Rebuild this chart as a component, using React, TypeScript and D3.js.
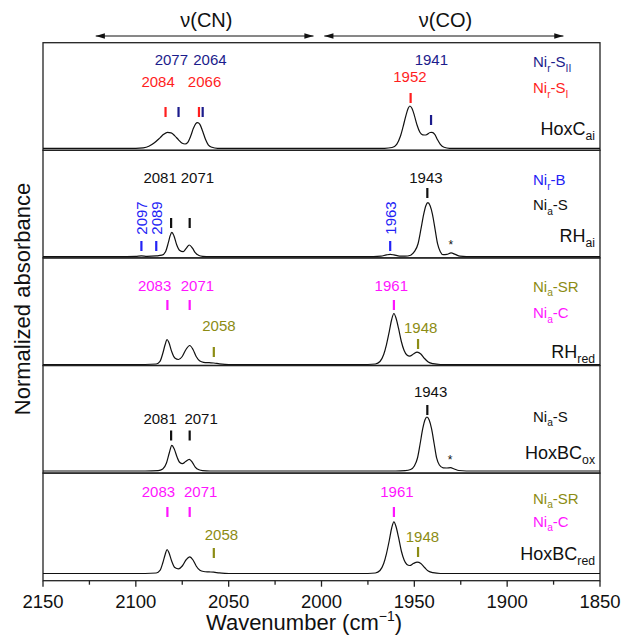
import React from 'react';
import * as d3 from 'd3';

// spectra: [wavenumber, normalized absorbance]
const hoxCaiSpectrum: [number, number][] = [
  [2150, 0], [2100, 0], [2096, 0.009], [2093, 0.037], [2090, 0.102], [2087, 0.194], [2085, 0.259],
  [2083, 0.296], [2081, 0.287], [2079, 0.231], [2077, 0.157], [2075, 0.093], [2073.5, 0.08],
  [2072, 0.111], [2070.5, 0.222], [2069, 0.37], [2067.8, 0.454], [2066.8, 0.476], [2065.5, 0.444],
  [2064, 0.315], [2062.5, 0.167], [2061, 0.065], [2059, 0.019], [2056, 0], [1966, 0], [1962, 0.015],
  [1959.5, 0.074], [1957.5, 0.222], [1956, 0.407], [1954.5, 0.611], [1953.3, 0.741], [1952.4, 0.783],
  [1951.3, 0.741], [1950, 0.611], [1948.5, 0.426], [1947, 0.296], [1945.5, 0.25], [1943.8, 0.246],
  [1941.5, 0.293], [1940.5, 0.296], [1939, 0.259], [1937.5, 0.157], [1936, 0.074], [1934, 0.019],
  [1931, 0], [1850, 0],
];

const rhAiSpectrum: [number, number][] = [
  [2150, 0], [2110, 0], [2100, 0.006], [2097, 0.015], [2094, 0.007], [2089, 0.015], [2086, 0.028],
  [2084, 0.093], [2082.5, 0.26], [2081.5, 0.39], [2080.6, 0.45], [2079.5, 0.39], [2078, 0.22],
  [2076.5, 0.12], [2074.5, 0.093], [2073, 0.148], [2071.2, 0.217], [2069.5, 0.157], [2068, 0.074],
  [2066, 0.022], [2064, 0.006], [2060, 0], [1972, 0], [1968, 0.009], [1965, 0.033], [1963, 0.043],
  [1961, 0.033], [1958, 0.011], [1955, 0.009], [1952, 0.028], [1950, 0.093], [1948, 0.24],
  [1946.5, 0.5], [1945, 0.78], [1943.8, 0.944], [1942.7, 1.0], [1941.5, 0.944], [1940.2, 0.78],
  [1938.8, 0.5], [1937.5, 0.24], [1936, 0.093], [1934.5, 0.037], [1932.5, 0.043], [1930.2, 0.069],
  [1928, 0.043], [1925.5, 0.009], [1922, 0], [1850, 0],
];

const rhRedSpectrum: [number, number][] = [
  [2150, 0], [2095, 0], [2089, 0.009], [2087, 0.056], [2085.5, 0.204], [2084.2, 0.37], [2083.2, 0.463],
  [2082.2, 0.407], [2080.7, 0.241], [2079, 0.12], [2077, 0.093], [2075, 0.148], [2073, 0.278],
  [2071, 0.352], [2069.2, 0.278], [2067.5, 0.148], [2065.5, 0.065], [2063.5, 0.041], [2060.5, 0.033],
  [2058, 0.028], [2055, 0.013], [2052, 0.004], [2048, 0], [1975, 0], [1971, 0.009], [1968.5, 0.056],
  [1966.5, 0.185], [1965, 0.37], [1963.5, 0.611], [1962.2, 0.833], [1961, 0.944], [1959.8, 0.852],
  [1958.5, 0.667], [1957, 0.426], [1955.5, 0.259], [1954, 0.176], [1952.5, 0.154], [1950.5, 0.194],
  [1948.5, 0.228], [1946.5, 0.194], [1944.5, 0.111], [1942.5, 0.046], [1940, 0.015], [1936, 0],
  [1850, 0],
];

const hoxBcOxSpectrum: [number, number][] = [
  [2150, 0], [2095, 0], [2088, 0.006], [2085.5, 0.037], [2083.5, 0.148], [2082, 0.333], [2080.6, 0.476],
  [2079.3, 0.407], [2077.8, 0.259], [2076.3, 0.157], [2074.9, 0.135], [2073.2, 0.176], [2071.2, 0.217],
  [2069.5, 0.157], [2068, 0.074], [2066, 0.022], [2064, 0.006], [2060, 0], [1960, 0], [1955, 0.006],
  [1952, 0.028], [1950, 0.093], [1948.3, 0.241], [1946.9, 0.5], [1945.5, 0.778], [1944.3, 0.944],
  [1943.2, 1.0], [1942, 0.944], [1940.7, 0.778], [1939.3, 0.5], [1938, 0.241], [1936.5, 0.111],
  [1934.5, 0.059], [1932.5, 0.056], [1930.5, 0.061], [1928.5, 0.037], [1926, 0.009], [1922, 0],
  [1850, 0],
];

const hoxBcRedSpectrum: [number, number][] = [
  [2150, 0], [2095, 0], [2089, 0.009], [2087, 0.056], [2085.5, 0.194], [2084.2, 0.352], [2083.2, 0.444],
  [2082.2, 0.389], [2080.7, 0.231], [2079, 0.111], [2077, 0.087], [2075, 0.139], [2073, 0.25],
  [2071, 0.309], [2069.2, 0.25], [2067.5, 0.139], [2065.5, 0.059], [2063.5, 0.037], [2060.5, 0.03],
  [2058, 0.024], [2055, 0.011], [2052, 0.004], [2048, 0], [1975, 0], [1971, 0.009], [1968.5, 0.056],
  [1966.5, 0.185], [1965, 0.37], [1963.5, 0.611], [1962.2, 0.843], [1961, 0.957], [1959.8, 0.861],
  [1958.5, 0.667], [1957, 0.417], [1955.5, 0.25], [1954, 0.167], [1952.5, 0.148], [1950.5, 0.185],
  [1948.5, 0.209], [1946.5, 0.185], [1944.5, 0.111], [1942.5, 0.046], [1940, 0.015], [1936, 0],
  [1850, 0],
];

// band assignments per panel: wavenumber + species
const hoxCaiBands = [
  { wn: 2084, sp: 'NirSI' }, { wn: 2077, sp: 'NirSII' }, { wn: 2066, sp: 'NirSI' },
  { wn: 2064, sp: 'NirSII' }, { wn: 1952, sp: 'NirSI' }, { wn: 1941, sp: 'NirSII' },
];
const rhAiBands = [
  { wn: 2097, sp: 'NirB' }, { wn: 2089, sp: 'NirB' }, { wn: 2081, sp: 'NiaS' },
  { wn: 2071, sp: 'NiaS' }, { wn: 1963, sp: 'NirB' }, { wn: 1943, sp: 'NiaS' },
];
const rhRedBands = [
  { wn: 2083, sp: 'NiaC' }, { wn: 2071, sp: 'NiaC' }, { wn: 2058, sp: 'NiaSR' },
  { wn: 1961, sp: 'NiaC' }, { wn: 1948, sp: 'NiaSR' },
];
const hoxBcOxBands = [
  { wn: 2081, sp: 'NiaS' }, { wn: 2071, sp: 'NiaS' }, { wn: 1943, sp: 'NiaS' },
];
const hoxBcRedBands = [
  { wn: 2083, sp: 'NiaC' }, { wn: 2071, sp: 'NiaC' }, { wn: 2058, sp: 'NiaSR' },
  { wn: 1961, sp: 'NiaC' }, { wn: 1948, sp: 'NiaSR' },
];

const xTicks = [2150, 2100, 2050, 2000, 1950, 1900, 1850];
const xMinorTicks = [2125, 2075, 2025, 1975, 1925, 1875];

// species colours and legend text: [main, sub, main, sub]
const species: Record<string, { color: string; parts: string[] }> = {
  NirSII: { color: '#1c1c8c', parts: ['Ni', 'r', '-S', 'II'] },
  NirSI: { color: '#ff1e1e', parts: ['Ni', 'r', '-S', 'I'] },
  NirB: { color: '#2323f5', parts: ['Ni', 'r', '-B', ''] },
  NiaS: { color: '#111111', parts: ['Ni', 'a', '-S', ''] },
  NiaSR: { color: '#8c8c14', parts: ['Ni', 'a', '-SR', ''] },
  NiaC: { color: '#ff14ff', parts: ['Ni', 'a', '-C', ''] },
};

// layout (px, relative to panel top): bar top, label dx from bar, label centre y, rotated label?
const panels = [
  {
    name: ['HoxC', 'ai'], data: hoxCaiSpectrum, bands: hoxCaiBands, base: 2,
    place: [[64.3, -7.4, 39], [64.3, -7.2, 17.3], [64.3, 5.6, 39], [64.3, 7.3, 17.3], [50.3, -0.7, 34.3], [72.3, 0.3, 17.3]],
    legend: [['NirSII', 19.3], ['NirSI', 45.3]], nameY: 85.6, star: null,
  },
  {
    name: ['RH', 'ai'], data: rhAiSpectrum, bands: rhAiBands, base: 1.2,
    place: [[90.7, 0, 67.7, 1], [90.7, 0, 67.7, 1], [67.7, -11, 27.4], [67.7, 7.8, 27.4], [90.7, 0, 67.7, 1], [37.7, -1.4, 27.4]],
    legend: [['NirB', 29.7], ['NiaS', 54.7]], nameY: 84.7, star: [1930.3, 93.7],
  },
  {
    name: ['RH', 'red'], data: rhRedSpectrum, bands: rhRedBands, base: 1,
    place: [[42.1, -12.8, 28.1], [42.1, 7.8, 28.1], [89.1, 5.1, 68.1], [42.1, -2.6, 28.1], [81.1, 2.6, 69.8]],
    legend: [['NiaSR', 28.8], ['NiaC', 55.1]], nameY: 93.8, star: null,
  },
  {
    name: ['HoxBC', 'ox'], data: hoxBcOxSpectrum, bands: hoxBcOxBands, base: 2.1,
    place: [[65, -11, 53], [65, 11.4, 53], [39.5, 3.3, 26.2]],
    legend: [['NiaS', 51]], nameY: 86.5, star: [1930.8, 93.8],
  },
  {
    name: ['HoxBC', 'red'], data: hoxBcRedSpectrum, bands: hoxBcRedBands, base: 7.2,
    place: [[33.9, -9, 18.6], [33.9, 11, 18.6], [74.9, 7.6, 61.9], [33.9, 3, 18.6], [73.9, 4.4, 63.6]],
    legend: [['NiaSR', 25.2], ['NiaC', 48.6]], nameY: 80.5, star: null,
  },
];

const W = 621;
const H = 635;
const left = 43;
const right = 600;
const top = 42.7;
const bottom = 580.7;
const panelH = (bottom - top) / panels.length;
const FONT = 'Liberation Sans, Arial, sans-serif';

const Label = ({ parts, x, y, size, color, anchor = 'start' }) => (
  <text x={x} y={y} fontSize={size} fill={color} textAnchor={anchor}>
    {parts[0]}
    <tspan fontSize={size * 0.68} dy={size * 0.28}>{parts[1]}</tspan>
    {parts[2] ? <tspan dy={-size * 0.28}>{parts[2]}</tspan> : null}
    {parts[3] ? <tspan fontSize={size * 0.68} dy={size * 0.28}>{parts[3]}</tspan> : null}
  </text>
);

export default function App() {
  const x = d3.scaleLinear().domain([2150, 1850]).range([left, right]);

  return (
    <svg width={W} height={H} style={{ position: 'absolute', left: 0, top: 0, background: '#fff' }} fontFamily={FONT}>
      <defs>
        <marker id="ah" viewBox="0 0 10 6" refX="10" refY="3" markerWidth="12" markerHeight="5.5" markerUnits="userSpaceOnUse" orient="auto-start-reverse">
          <path d="M0,0 L10,3 L0,6 Z" fill="#111" />
        </marker>
      </defs>

      {/* region arrows */}
      {[[2121.6, 2004.3, 2062, 'ν(CN)'], [1998.5, 1869.7, 1933.2, 'ν(CO)']].map(([a, b, c, t]) => (
        <g key={t as string}>
          <line x1={x(a as number)} x2={x(b as number)} y1={36} y2={36} stroke="#111" strokeWidth={1}
            markerStart="url(#ah)" markerEnd="url(#ah)" />
          <text x={x(c as number)} y={27} fontSize={20} textAnchor="middle" fill="#111">{t}</text>
        </g>
      ))}

      {panels.map((p, i) => {
        const pTop = top + i * panelH;
        const y = d3.scaleLinear().domain([0, 1]).range([pTop + panelH - p.base, pTop + panelH - p.base - 54]);
        const line = d3.line<[number, number]>().x(d => x(d[0])).y(d => y(d[1])).curve(d3.curveMonotoneX);
        return (
          <g key={i}>
            <rect x={left} y={pTop} width={right - left} height={panelH} fill="none" stroke="#222" strokeWidth={1.3} />
            <path d={line(p.data) as string} fill="none" stroke="#111" strokeWidth={1.2} />
            {p.bands.map((b, j) => {
              const [barTop, dx, ly, rot] = p.place[j];
              const c = species[b.sp].color;
              const bx = x(b.wn);
              return (
                <g key={j}>
                  <rect x={bx - 1.1} y={pTop + barTop} width={2.2} height={10} fill={c} />
                  {rot ? (
                    <text transform={`translate(${bx + dx},${pTop + ly}) rotate(-90)`} fontSize={15} fill={c}
                      textAnchor="middle" dominantBaseline="central">{b.wn}</text>
                  ) : (
                    <text x={bx + dx} y={pTop + ly + 5.4} fontSize={15} fill={c} textAnchor="middle">{b.wn}</text>
                  )}
                </g>
              );
            })}
            {p.legend.map(([sp, ly]) => (
              <Label key={sp as string} parts={species[sp as string].parts} x={533} y={pTop + (ly as number) + 5.4}
                size={15} color={species[sp as string].color} />
            ))}
            <Label parts={[p.name[0], p.name[1], '', '']} x={595} y={pTop + p.nameY + 6.5} size={18} color="#111" anchor="end" />
            {p.star ? (
              <text x={x(p.star[0])} y={pTop + p.star[1] + 5} fontSize={12} textAnchor="middle" fill="#111">*</text>
            ) : null}
          </g>
        );
      })}

      {/* bottom axis */}
      <g>
        {xTicks.map(t => (
          <g key={t}>
            <line x1={x(t)} x2={x(t)} y1={bottom} y2={bottom + 6} stroke="#222" strokeWidth={1.3} />
            <text x={x(t)} y={608} fontSize={18.5} textAnchor="middle" fill="#111">{t}</text>
          </g>
        ))}
        {xMinorTicks.map(t => (
          <line key={t} x1={x(t)} x2={x(t)} y1={bottom} y2={bottom + 4} stroke="#222" strokeWidth={1.3} />
        ))}
      </g>

      <text x={304} y={630} fontSize={22} textAnchor="middle" fill="#111">
        Wavenumber (cm<tspan fontSize={14} dy={-9}>−1</tspan><tspan dy={9}>)</tspan>
      </text>
      <text transform="translate(30,299) rotate(-90)" fontSize={22} textAnchor="middle" fill="#111">
        Normalized absorbance
      </text>
    </svg>
  );
}
